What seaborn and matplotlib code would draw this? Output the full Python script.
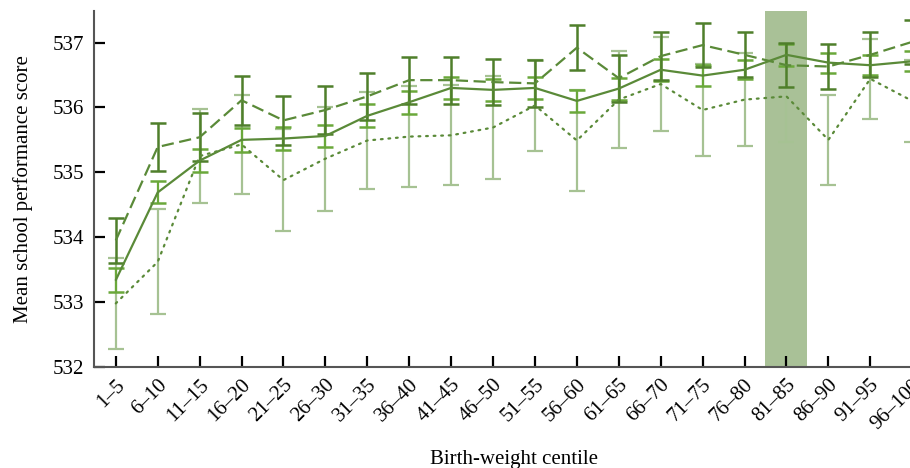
import numpy as np
import pandas as pd
import matplotlib
matplotlib.use("Agg")
import matplotlib.pyplot as plt
import matplotlib.transforms as mtransforms
import seaborn as sns

# ========== DATA ==========
centiles = ["1–5", "6–10", "11–15", "16–20", "21–25", "26–30", "31–35",
            "36–40", "41–45", "46–50", "51–55", "56–60", "61–65", "66–70",
            "71–75", "76–80", "81–85", "86–90", "91–95", "96–100"]

# solid line
overall_mean = [533.34, 534.69, 535.18, 535.50, 535.52, 535.56, 535.87, 536.08,
                536.30, 536.27, 536.30, 536.10, 536.29, 536.58, 536.49, 536.58,
                536.81, 536.69, 536.65, 536.71]
overall_err = [0.19, 0.17, 0.18, 0.18, 0.18, 0.17, 0.175, 0.18, 0.17, 0.175,
               0.17, 0.175, 0.17, 0.17, 0.16, 0.15, 0.165, 0.155, 0.155, 0.155]

# dashed line
upper_mean = [533.95, 535.39, 535.54, 536.11, 535.80, 535.96, 536.17, 536.42,
              536.42, 536.39, 536.37, 536.92, 536.45, 536.79, 536.96, 536.81,
              536.65, 536.63, 536.81, 537.01]
upper_err = [0.34, 0.37, 0.37, 0.38, 0.38, 0.37, 0.36, 0.36, 0.36, 0.36,
             0.36, 0.35, 0.36, 0.37, 0.34, 0.345, 0.34, 0.34, 0.345, 0.34]

# dotted line
lower_mean = [532.98, 533.62, 535.25, 535.43, 534.88, 535.21, 535.49, 535.55,
              535.57, 535.69, 536.03, 535.49, 536.12, 536.36, 535.96, 536.12,
              536.17, 535.50, 536.44, 536.10]
lower_err = [0.70, 0.81, 0.72, 0.76, 0.78, 0.80, 0.74, 0.78, 0.77, 0.79,
             0.70, 0.78, 0.75, 0.73, 0.71, 0.72, 0.71, 0.69, 0.62, 0.63]

highlight = "81–85"
yticks = [532, 533, 534, 535, 536, 537]

# ========== STYLE ==========
LINE_COLOR = "#5a8a38"
DARK = "#4f7f2b"
BRIGHT = "#6aa83a"
PALE = "#a6c293"
BAND = "#a9c197"

sns.set_theme(style="ticks")
plt.rcParams["font.family"] = ["Liberation Serif", "DejaVu Serif"]
plt.rcParams["text.color"] = "black"
plt.rcParams["axes.labelcolor"] = "black"
plt.rcParams["xtick.labelcolor"] = "black"
plt.rcParams["ytick.labelcolor"] = "black"

fig = plt.figure(figsize=(9.10, 4.68), dpi=100)
ax = fig.add_axes([94 / 910, 1 - 367 / 468, 840 / 910, (367 - 10.7) / 468])

x = np.arange(len(centiles))
df = pd.DataFrame({
    "x": np.tile(x, 3),
    "score": overall_mean + upper_mean + lower_mean,
    "group": ["overall"] * len(x) + ["upper"] * len(x) + ["lower"] * len(x),
})

hi = centiles.index(highlight)
ax.axvspan(hi - 0.5, hi + 0.5, color=BAND, lw=0, zorder=0)

# error bars: pale (dotted series), bright (solid), dark (dashed)
ax.errorbar(x, lower_mean, yerr=lower_err, fmt="none", ecolor=PALE,
            elinewidth=1.6, capsize=6, capthick=1.6, zorder=2)
ax.errorbar(x, overall_mean, yerr=overall_err, fmt="none", ecolor=BRIGHT,
            elinewidth=1.6, capsize=6, capthick=1.8, zorder=3)
ax.errorbar(x, upper_mean, yerr=upper_err, fmt="none", ecolor=DARK,
            elinewidth=1.8, capsize=6, capthick=1.8, zorder=4)

sns.lineplot(data=df[df.group == "overall"], x="x", y="score", ax=ax,
             color=LINE_COLOR, lw=1.6, zorder=5)
sns.lineplot(data=df[df.group == "upper"], x="x", y="score", ax=ax,
             color=LINE_COLOR, lw=1.6, zorder=5, linestyle=(0, (5.5, 2.5)))
sns.lineplot(data=df[df.group == "lower"], x="x", y="score", ax=ax,
             color=LINE_COLOR, lw=1.6, zorder=5, linestyle=(0, (0.8, 2.6)),
             dash_capstyle="round")

ax.set_xlim(-0.52, len(x) - 1 + 0.52)
ax.set_ylim(532, 537.49)
ax.set_yticks(yticks)
ax.set_yticklabels([str(v) for v in yticks])
ax.set_xticks(x)
ax.set_xticklabels(centiles, rotation=45, ha="right", va="center",
                   rotation_mode="anchor")

ax.tick_params(axis="both", direction="in", length=8, width=1.6,
               color="black", labelsize=15, pad=7)
ax.tick_params(axis="x", pad=9)
sns.despine(ax=ax)
for side in ["left", "bottom"]:
    ax.spines[side].set_color("#555555")
    ax.spines[side].set_linewidth(1.5)

# nudge rotated tick labels (after tick_params, which resets transforms)
offset = mtransforms.ScaledTranslation(4.5 / 72, -2 / 72, fig.dpi_scale_trans)
for lab in ax.get_xticklabels():
    lab.set_transform(lab.get_transform() + offset)

ax.set_xlabel("Birth-weight centile", fontsize=15, labelpad=12)
ax.set_ylabel("Mean school performance score", fontsize=15, labelpad=14)

fig.savefig("out.png", dpi=100)
